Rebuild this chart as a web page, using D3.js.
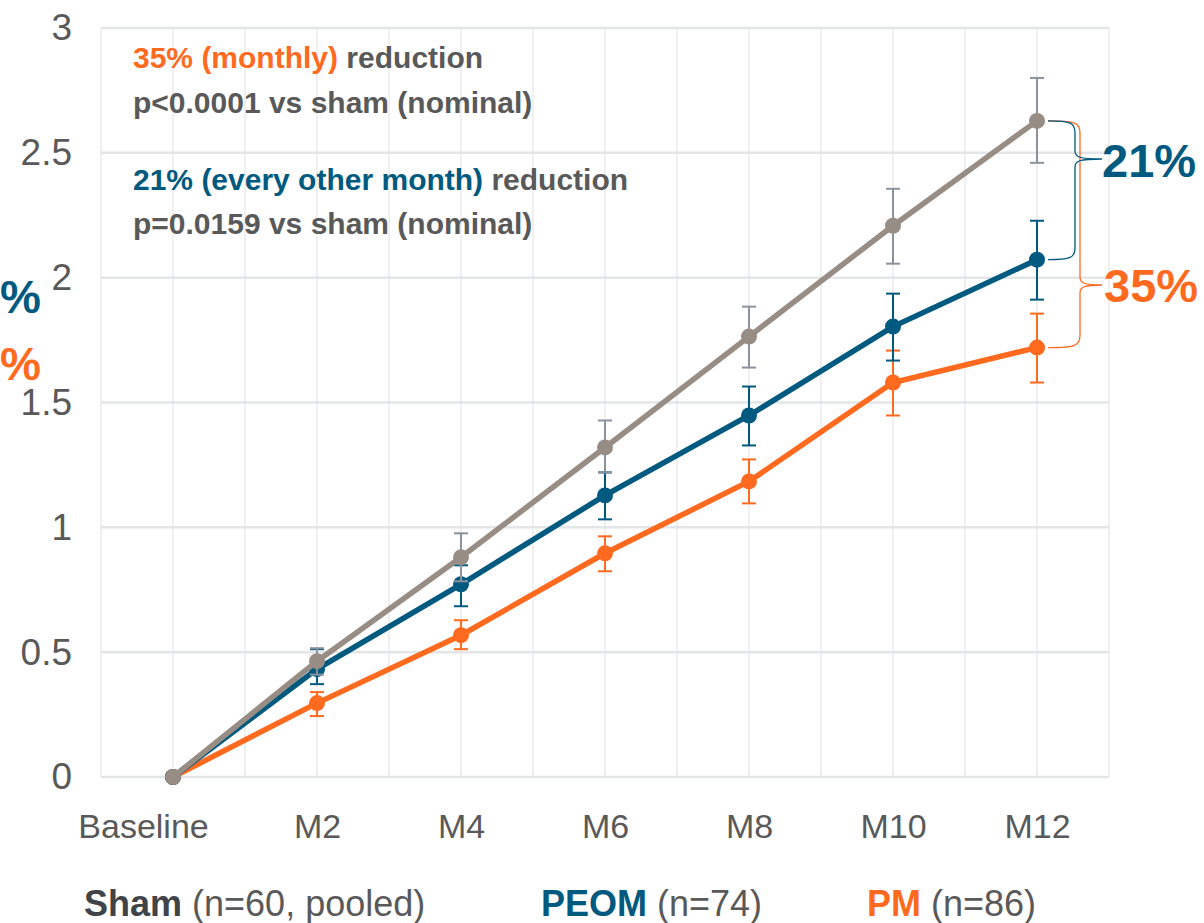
<!DOCTYPE html>
<html>
<head>
<meta charset="utf-8">
<title>Change from baseline</title>
<script src="https://cdn.jsdelivr.net/npm/d3@7"></script>
<style>
  body { margin: 0; background: #fff; }
  svg { display: block; font-family: "Liberation Sans", Arial, sans-serif; }
</style>
</head>
<body>
<div id="chart"></div>
<script>
var categories = ["Baseline", "M2", "M4", "M6", "M8", "M10", "M12"];
var yTicks = [0, 0.5, 1, 1.5, 2, 2.5, 3];

var shamMean = [0, 0.464, 0.88, 1.32, 1.764, 2.208, 2.628];
var shamLow  = [0, 0.41, 0.784, 1.22, 1.64, 2.056, 2.46];
var shamHigh = [0, 0.516, 0.976, 1.428, 1.884, 2.356, 2.80];

var peomMean = [0, 0.432, 0.772, 1.128, 1.448, 1.804, 2.072];
var peomLow  = [0, 0.372, 0.684, 1.032, 1.328, 1.668, 1.912];
var peomHigh = [0, 0.512, 0.848, 1.22, 1.564, 1.936, 2.228];

var pmMean = [0, 0.296, 0.568, 0.896, 1.184, 1.58, 1.72];
var pmLow  = [0, 0.244, 0.512, 0.824, 1.096, 1.448, 1.58];
var pmHigh = [0, 0.34, 0.628, 0.964, 1.272, 1.708, 1.856];

var orange = "#ff6a1f", blue = "#005a80", grey = "#978d85", greyBar = "#8a939d", text = "#595959";

var W = 1204, H = 923;
var svg = d3.select("#chart").append("svg").attr("width", W).attr("height", H);

var x = d3.scalePoint().domain(categories).range([101, 1109]).padding(0.5);
var y = d3.scaleLinear().domain([0, 3]).range([777, 28]);
var half = x.step() / 2;

// grid
var grid = svg.append("g");
var vlines = [];
categories.forEach(function (c) { vlines.push(x(c) - half, x(c)); });
vlines.push(x("M12") + half);
grid.selectAll(".v").data(vlines).enter().append("line")
  .attr("x1", d => d).attr("x2", d => d)
  .attr("y1", y(3)).attr("y2", y(0))
  .attr("stroke", "#f0f0f0").attr("stroke-width", 2);
grid.selectAll(".h").data(yTicks).enter().append("line")
  .attr("x1", 101).attr("x2", 1109)
  .attr("y1", d => y(d)).attr("y2", d => y(d))
  .attr("stroke", "#e3e5e7").attr("stroke-width", 2.5);

// y axis labels
var yAxis = svg.append("g").attr("transform", "translate(72,0)")
  .call(d3.axisLeft(y).tickValues(yTicks).tickSize(0).tickPadding(0).tickFormat(d3.format("")));
yAxis.select(".domain").remove();
yAxis.selectAll("text").attr("font-size", 37).attr("fill", text)
  .attr("font-family", "Liberation Sans, Arial, sans-serif");

// x axis labels
var xAxis = svg.append("g").attr("transform", "translate(0,814)")
  .call(d3.axisBottom(x).tickSize(0).tickPadding(0));
xAxis.select(".domain").remove();
xAxis.selectAll("text").attr("font-size", 34).attr("fill", text)
  .attr("font-family", "Liberation Sans, Arial, sans-serif")
  .attr("dx", d => d === "Baseline" ? -30 : 0);

var series = [
  { mean: pmMean, low: pmLow, high: pmHigh, color: orange, bar: orange },
  { mean: peomMean, low: peomLow, high: peomHigh, color: blue, bar: blue },
  { mean: shamMean, low: shamLow, high: shamHigh, color: grey, bar: greyBar }
];

var line = d3.line().x((d, i) => x(categories[i])).y(d => y(d));

series.forEach(function (s) {
  var g = svg.append("g");
  var idx = d3.range(1, categories.length);
  g.selectAll(".eb").data(idx).enter().append("line")
    .attr("x1", i => x(categories[i])).attr("x2", i => x(categories[i]))
    .attr("y1", i => y(s.low[i])).attr("y2", i => y(s.high[i]))
    .attr("stroke", s.bar).attr("stroke-width", 2);
  ["low", "high"].forEach(function (k) {
    g.selectAll(".cap-" + k).data(idx).enter().append("line")
      .attr("x1", i => x(categories[i]) - 7).attr("x2", i => x(categories[i]) + 7)
      .attr("y1", i => y(s[k][i])).attr("y2", i => y(s[k][i]))
      .attr("stroke", s.bar).attr("stroke-width", 2);
  });
  g.append("path").datum(s.mean).attr("d", line)
    .attr("fill", "none").attr("stroke", s.color).attr("stroke-width", 5.5);
  g.selectAll("circle").data(s.mean).enter().append("circle")
    .attr("cx", (d, i) => x(categories[i])).attr("cy", d => y(d)).attr("r", 8)
    .attr("fill", s.color);
});

// braces at M12
function brace(yTop, yBot, xs, tipY, tipX) {
  var x0 = x("M12") + 11;
  return "M" + x0 + "," + yTop +
    "C" + (xs - 4) + "," + yTop + " " + xs + "," + (yTop + 2) + " " + xs + "," + (yTop + 12) +
    "L" + xs + "," + (tipY - 8) +
    "C" + xs + "," + (tipY - 2) + " " + (xs + 4) + "," + tipY + " " + tipX + "," + tipY +
    "M" + tipX + "," + tipY +
    "C" + (xs + 4) + "," + tipY + " " + xs + "," + (tipY + 2) + " " + xs + "," + (tipY + 8) +
    "L" + xs + "," + (yBot - 12) +
    "C" + xs + "," + (yBot - 2) + " " + (xs - 4) + "," + yBot + " " + x0 + "," + yBot;
}
var last = categories.length - 1;
svg.append("path").attr("d", brace(y(shamMean[last]), y(pmMean[last]), 1080, 285, 1102))
  .attr("fill", "none").attr("stroke", orange).attr("stroke-width", 1.3);
svg.append("path").attr("d", brace(y(shamMean[last]), y(peomMean[last]), 1075, 159, 1102))
  .attr("fill", "none").attr("stroke", blue).attr("stroke-width", 1.3);

svg.append("text").attr("x", 1102).attr("y", 177).attr("font-size", 47).attr("font-weight", "bold")
  .attr("fill", blue).text("21%");
svg.append("text").attr("x", 1104).attr("y", 302).attr("font-size", 47).attr("font-weight", "bold")
  .attr("fill", orange).text("35%");

// labels running off the left edge
svg.append("text").attr("x", 0).attr("y", 313).attr("font-size", 46)
  .attr("font-weight", "bold").attr("fill", blue).text("%");
svg.append("text").attr("x", 0).attr("y", 380).attr("font-size", 46)
  .attr("font-weight", "bold").attr("fill", orange).text("%");

// annotation block
var notes = [
  [{ t: "35% (monthly)", c: orange }, { t: " reduction", c: text }],
  [{ t: "p<0.0001 vs sham (nominal)", c: text }],
  [{ t: "21% (every other month)", c: blue }, { t: " reduction", c: text }],
  [{ t: "p=0.0159 vs sham (nominal)", c: text }]
];
var noteY = [68, 113, 190, 234];
notes.forEach(function (parts, i) {
  var t = svg.append("text").attr("x", 133).attr("y", noteY[i]).attr("font-size", 30)
    .attr("font-weight", "bold");
  parts.forEach(function (p) { t.append("tspan").attr("fill", p.c).text(p.t); });
});

// legend
var legend = [
  { x: 84, name: "Sham", rest: " (n=60, pooled)", c: "#404448" },
  { x: 541, name: "PEOM", rest: " (n=74)", c: blue },
  { x: 867, name: "PM", rest: " (n=86)", c: orange }
];
legend.forEach(function (l) {
  var t = svg.append("text").attr("x", l.x).attr("y", 916).attr("font-size", 36);
  t.append("tspan").attr("font-weight", "bold").attr("fill", l.c).text(l.name);
  t.append("tspan").attr("fill", text).text(l.rest);
});
</script>
</body>
</html>
